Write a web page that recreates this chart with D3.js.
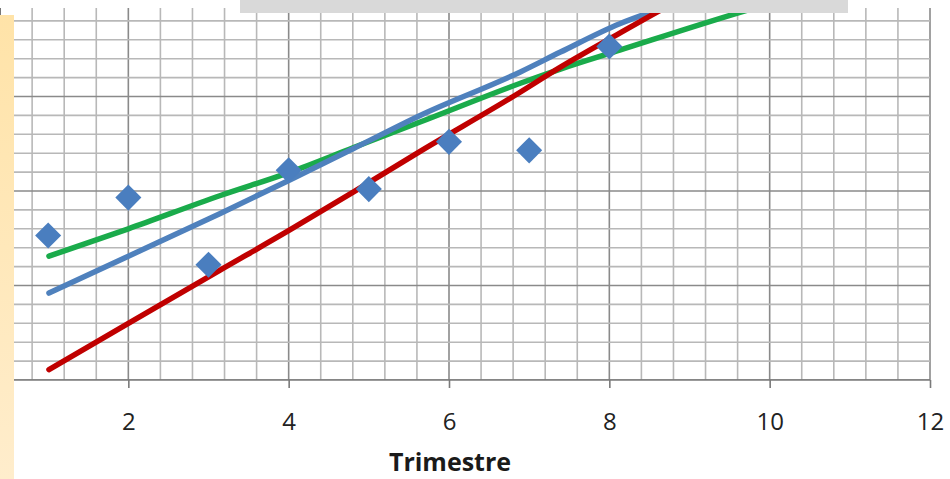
<!DOCTYPE html>
<html>
<head>
<meta charset="utf-8">
<script src="https://cdn.jsdelivr.net/npm/d3@7"></script>
<style>
  body { margin: 0; background: #fff; }
  svg { display: block; }
</style>
</head>
<body>
<svg id="chart" width="950" height="479"></svg>
<script>
// data
const quarters = [1, 2, 3, 4, 5, 6, 7, 8];
const values = [153, 193, 122, 222, 202, 252, 243, 353];
const xTicks = [2, 4, 6, 8, 10, 12];

const blueX = [1.01, 2.0, 3.14, 4.02, 4.81, 5.64, 6.89, 7.39, 8.13, 8.51, 8.72];
const blueY = [92, 131, 176, 212, 245, 280, 326, 347, 377, 389, 395];
const redX = [1.01, 2.0, 3.14, 4.02, 4.81, 5.64, 6.8, 7.39, 8.13, 8.59, 8.72];
const redY = [11, 60, 116, 159, 199, 242, 300, 331, 367, 389, 395];
const greenX = [1.01, 2.0, 3.14, 4.02, 4.81, 5.64, 6.89, 7.39, 8.13, 9.63, 9.87];
const greenY = [131, 160, 195, 220, 246, 273, 314, 329, 349, 389, 395];

const svg = d3.select("#chart");

const x = d3.scaleLinear().domain([0, 12]).range([-32, 930]);
const y = d3.scaleLinear().domain([0, 400]).range([380, 2]);

const plotLeft = 14, plotTop = 8, plotBottom = 380, plotRight = 930;

svg.append("clipPath").attr("id", "plot")
  .append("rect")
  .attr("x", plotLeft).attr("y", plotTop)
  .attr("width", plotRight - plotLeft + 1).attr("height", plotBottom - plotTop);

const grid = svg.append("g").attr("clip-path", "url(#plot)");

// vertical grid, minor every 0.4
const vLines = d3.range(0, 12.01, 0.4).map(v => +v.toFixed(1));
grid.selectAll(".vl")
  .data(vLines)
  .enter()
  .append("line")
  .attr("x1", d => x(d)).attr("x2", d => x(d))
  .attr("y1", plotTop).attr("y2", plotBottom)
  .attr("stroke", d => (d % 2 === 0 ? "#8a8a8a" : "#b8b8b8"))
  .attr("stroke-width", 1.6);

// horizontal grid, minor every 20
const hLines = d3.range(0, 401, 20);
grid.selectAll(".hl")
  .data(hLines)
  .enter()
  .append("line")
  .attr("x1", plotLeft).attr("x2", plotRight)
  .attr("y1", d => y(d)).attr("y2", d => y(d))
  .attr("stroke", d => (d % 100 === 0 ? "#8a8a8a" : "#b8b8b8"))
  .attr("stroke-width", 1.6);

// x axis
const xAxis = d3.axisBottom(x)
  .tickValues(xTicks)
  .tickSize(8)
  .tickPadding(25)
  .tickFormat(d3.format("d"));

const ax = svg.append("g")
  .attr("transform", `translate(0,${plotBottom})`)
  .call(xAxis);
ax.select(".domain")
  .attr("d", `M${plotLeft},0H${plotRight}`)
  .attr("stroke", "#7a7a7a")
  .attr("stroke-width", 1.6);
ax.selectAll(".tick line").attr("stroke", "#7a7a7a").attr("stroke-width", 1.6);
ax.selectAll(".tick text")
  .attr("fill", "#222")
  .style("font-family", "'Open Sans', sans-serif")
  .style("font-size", "24px");

svg.append("text")
  .attr("x", 450)
  .attr("y", 471)
  .attr("text-anchor", "middle")
  .style("font-family", "'Open Sans', sans-serif")
  .style("font-weight", "bold")
  .style("font-size", "25px")
  .attr("fill", "#1a1a1a")
  .text("Trimestre");

// hand drawn trend lines
const line = d3.line()
  .x(d => x(d[0]))
  .y(d => y(d[1]))
  .curve(d3.curveMonotoneX);

const trends = [
  { xs: greenX, ys: greenY, color: "#1aab4b" },
  { xs: blueX, ys: blueY, color: "#4f81bd" },
  { xs: redX, ys: redY, color: "#c00000" }
];

trends.forEach(t => {
  svg.append("path")
    .datum(t.xs.map((v, i) => [v, t.ys[i]]))
    .attr("d", line)
    .attr("fill", "none")
    .attr("stroke", t.color)
    .attr("stroke-width", 5.5)
    .attr("stroke-linecap", "round")
    .attr("stroke-linejoin", "round");
});

// data points
svg.selectAll(".pt")
  .data(quarters)
  .enter()
  .append("path")
  .attr("d", d3.symbol().type(d3.symbolSquare).size(340))
  .attr("transform", (d, i) => `translate(${x(d)},${y(values[i])}) rotate(45)`)
  .attr("fill", "#4a7ebf");

// overlays from the page around the chart
const grad = svg.append("defs").append("linearGradient")
  .attr("id", "cream").attr("x1", 0).attr("y1", 0).attr("x2", 0).attr("y2", 1);
grad.append("stop").attr("offset", "0%").attr("stop-color", "#ffe3a8");
grad.append("stop").attr("offset", "100%").attr("stop-color", "#ffedcc");

svg.append("rect")
  .attr("x", 0).attr("y", 15)
  .attr("width", 14).attr("height", 464)
  .attr("fill", "url(#cream)");

svg.append("line")
  .attr("x1", 0.5).attr("x2", 0.5)
  .attr("y1", 8).attr("y2", 15)
  .attr("stroke", "#777");

svg.append("rect")
  .attr("x", 240).attr("y", 0)
  .attr("width", 608).attr("height", 13)
  .attr("fill", "#d9d9d9");
</script>
</body>
</html>
